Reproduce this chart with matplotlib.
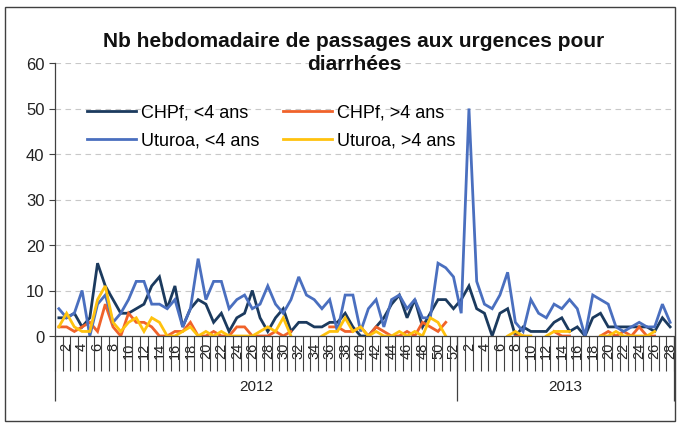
import numpy as np
import matplotlib
matplotlib.use('Agg')
import matplotlib.pyplot as plt
from matplotlib.patches import Rectangle

plt.rcParams['font.family'] = ['Liberation Sans', 'DejaVu Sans']

# weeks : 2012 (1-52) then 2013 (1-28)
years = ['2012', '2013']
weeks_2012 = list(range(1, 53))
weeks_2013 = list(range(1, 29))

chpf_moins4 = [4, 4, 5, 2, 4, 16, 11, 8, 5, 5, 6, 7, 11, 13, 6, 11, 2, 6, 8, 7,
               3, 5, 1, 4, 5, 10, 4, 1, 4, 6, 1, 3, 3, 2, 2, 3, 3, 5, 2, 0,
               0, 2, 4, 7, 9, 4, 8, 2, 5, 8, 8, 6,
               8, 11, 6, 5, 0, 5, 6, 0, 2, 1, 1, 1, 3, 4, 1, 2, 0, 4, 5, 2,
               2, 2, 2, 2, 2, 1, 4, 2]
chpf_plus4 = [2, 2, 1, 2, 3, 1, 7, 2, 0, 5, 3, 3, 2, 0, 0, 1, 1, 3, 0, 0,
              1, 0, 0, 2, 2, 0, 0, 0, 1, 0, 1, None, None, None, None, 2, 2, 1, 1, 2,
              0, 2, 1, 0, 0, 1, 0, 3, 2, 1, 3, None,
              None, None, None, None, None, None, None, 0, 0, None, None, None, 1, 0, 0, None, None, None, 0, 1,
              0, 1, 0, 2, 0, 0, None, None]
uturoa_moins4 = [6, 4, 5, 10, 0, 7, 9, 3, 5, 8, 12, 12, 7, 7, 6, 8, 2, 6, 17, 8,
                 12, 12, 6, 8, 9, 6, 7, 11, 7, 5, 8, 13, 9, 8, 6, 8, 1, 9, 9, 1,
                 6, 8, 2, 8, 9, 6, 8, 4, 4, 16, 15, 13,
                 5, 50, 12, 7, 6, 9, 14, 3, 1, 8, 5, 4, 7, 6, 8, 6, 0, 9, 8, 7,
                 2, 1, 2, 3, 2, 2, 7, 3]
uturoa_plus4 = [2, 5, 2, 1, 1, 8, 11, 3, 1, 3, 4, 1, 4, 3, 0, 0, 1, 2, 0, 1,
                0, 1, 0, 0, 0, 0, 1, 2, 1, 4, 0, None, None, None, 0, 1, 1, 4, 1, 2,
                0, 1, 0, 0, 1, 0, 1, 0, 4, 3, 0, None,
                None, None, None, None, None, None, 0, 1, 0, 0, None, 0, 1, 1, 1, None, None, None, 0, 0,
                1, 0, 0, 0, 0, 1, None, None]

series = [
    ('CHPf, <4 ans', chpf_moins4, '#1B3A5E'),
    ('CHPf, >4 ans', chpf_plus4, '#F0622A'),
    ('Uturoa, <4 ans', uturoa_moins4, '#4A6FBF'),
    ('Uturoa, >4 ans', uturoa_plus4, '#FFC20E'),
]

labels_semaine = weeks_2012 + weeks_2013
x = np.arange(len(labels_semaine))

W, H = 678, 427
fig = plt.figure(figsize=(W / 100, H / 100), dpi=100)
# position du graphique en pixels
gauche, droite, haut, bas = 55, 674, 64, 337
ax = fig.add_axes([gauche / W, (H - bas) / H, (droite - gauche) / W, (bas - haut) / H])

lignes = {}
for nom, vals, couleur in series:
    y = np.array([np.nan if v is None else v for v in vals], dtype=float)
    l, = ax.plot(x, y, color=couleur, lw=2.0, label=nom, solid_joinstyle='miter')
    lignes[nom] = l

ax.set_ylim(0, 60)
ax.set_yticks(range(0, 61, 10))
ax.set_xlim(-0.5, len(x) - 0.5)
ax.yaxis.grid(True, color='#C8C8C8', linestyle=(0, (5, 4)), lw=0.8)
ax.set_axisbelow(True)
for s in ['top', 'right']:
    ax.spines[s].set_visible(False)
for s in ['left', 'bottom']:
    ax.spines[s].set_color('#404040')
    ax.spines[s].set_linewidth(0.9)
ax.tick_params(axis='y', labelsize=12, length=4, color='#404040', labelcolor='#222222')

# etiquettes des semaines paires
pos_paires = [i for i, w in enumerate(labels_semaine) if w % 2 == 0]
ax.set_xticks(pos_paires)
ax.set_xticklabels([str(labels_semaine[i]) for i in pos_paires], rotation=90,
                   fontsize=10.5, color='#222222')
ax.tick_params(axis='x', which='major', length=0, pad=4)
ax.set_xticks(np.arange(-0.5, len(x), 1), minor=True)
ax.tick_params(axis='x', which='minor', length=25, width=0.8, color='#404040')

# separateurs d'annees et libelles
n12 = len(weeks_2012)
limites = [-0.5, n12 - 0.5, len(x) - 0.5]
h_px = bas - haut
ax.vlines(limites, -(402 - bas) / h_px, 0, transform=ax.get_xaxis_transform(),
          color='#404040', lw=0.9, clip_on=False)
centres = [(limites[0] + limites[1]) / 2, (limites[1] + limites[2]) / 2]
for c, an in zip(centres, years):
    ax.text(c, -(387 - bas) / h_px, an, transform=ax.get_xaxis_transform(),
            ha='center', va='center', fontsize=11, color='#222222')

# legende
ordre = ['CHPf, <4 ans', 'Uturoa, <4 ans', 'CHPf, >4 ans', 'Uturoa, >4 ans']
ax.legend([lignes[k] for k in ordre], ordre, ncol=2, frameon=False, fontsize=13,
          loc='upper left', bbox_to_anchor=((87 - gauche) / (droite - gauche), (bas - 105) / h_px),
          borderpad=0, borderaxespad=0, handlelength=2.7, handletextpad=0.3,
          columnspacing=1.3, labelspacing=0.6)

fig.text(354 / W, 1 - 53 / H, 'Nb hebdomadaire de passages aux urgences pour\ndiarrhées',
         ha='center', va='center', fontsize=15, fontweight='bold', linespacing=1.3,
         color='#111111')

# cadre exterieur
fig.patches.append(Rectangle((5 / W, 5 / H), 670 / W, 414 / H, transform=fig.transFigure,
                             fill=False, edgecolor='#404040', lw=1))

fig.savefig('out.png', dpi=100)
